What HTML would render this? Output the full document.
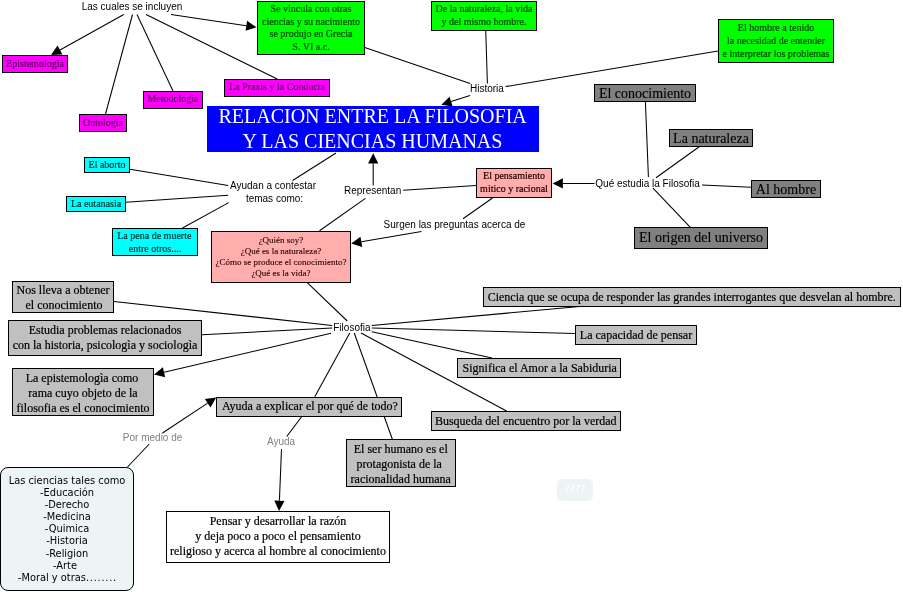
<!DOCTYPE html>
<html lang="es"><head><meta charset="utf-8"><title>Relacion entre la filosofia y las ciencias humanas</title>
<style>
html,body{margin:0;padding:0;background:#fff}
#map{position:relative;width:903px;height:592px;overflow:hidden;background:#fff;will-change:transform}
#map svg{position:absolute;left:0;top:0}
#map svg line{stroke:#000;stroke-width:1.05}
.b{position:absolute;box-sizing:border-box;border:1px solid #000;overflow:visible}
.b p,.l p{position:absolute;left:-50px;right:-50px;margin:0;text-align:center;white-space:pre}
.s3 p{-webkit-text-stroke:0.22px currentColor}
.s2 p{-webkit-text-stroke:0.2px currentColor}
.s1 p{-webkit-text-stroke:0.12px currentColor}
.d{letter-spacing:0.75px}
.l{position:absolute;width:0;height:0;font-family:"Liberation Sans",Arial,sans-serif;font-size:10px;line-height:12.5px}
.l p{left:-150px;right:-150px}
</style></head><body>
<div id="map">
<svg width="903" height="592" viewBox="0 0 903 592">

<polygon points="51.00,55.00 57.52,45.53 62.48,54.45" fill="#000"/>
<line x1="123.75" y1="14.5" x2="60.00" y2="49.99"/>
<line x1="132.5" y1="14.5" x2="105.50" y2="114.00"/>
<line x1="137" y1="14.5" x2="173.00" y2="91.00"/>
<line x1="146" y1="14.5" x2="277.25" y2="79.00"/>
<polygon points="256.50,27.30 245.56,30.83 247.06,20.74" fill="#000"/>
<line x1="171" y1="14.6" x2="246.31" y2="25.79"/>
<line x1="364.75" y1="47.4" x2="470.10" y2="83.50"/>
<line x1="485.75" y1="30.75" x2="487.40" y2="83.60"/>
<line x1="505.5" y1="86.6" x2="718.00" y2="51.00"/>
<polygon points="441.30,104.70 449.56,96.71 452.66,106.42" fill="#000"/>
<line x1="470.1" y1="95.5" x2="451.11" y2="101.57"/>
<polygon points="373.20,153.30 378.30,163.60 368.10,163.60" fill="#000"/>
<line x1="373.2" y1="185.4" x2="373.20" y2="163.60"/>
<line x1="336" y1="153" x2="292.60" y2="180.50"/>
<line x1="130" y1="169.25" x2="228.20" y2="185.40"/>
<line x1="125.75" y1="202.25" x2="228.20" y2="195.20"/>
<line x1="182.5" y1="228" x2="228.70" y2="202.60"/>
<line x1="403.3" y1="190.3" x2="476.00" y2="185.50"/>
<line x1="365.4" y1="198.4" x2="319.50" y2="230.70"/>
<line x1="492.5" y1="198" x2="463.00" y2="218.75"/>
<polygon points="351.20,243.60 360.49,236.83 362.22,246.88" fill="#000"/>
<line x1="421.5" y1="231.5" x2="361.35" y2="241.85"/>
<polygon points="552.60,183.40 562.90,178.30 562.90,188.50" fill="#000"/>
<line x1="594.5" y1="183.4" x2="562.90" y2="183.40"/>
<line x1="645.4" y1="101.8" x2="648.40" y2="176.90"/>
<line x1="699.2" y1="146.8" x2="656.00" y2="177.80"/>
<line x1="702" y1="185" x2="751.00" y2="187.25"/>
<line x1="653" y1="188.1" x2="690.10" y2="227.20"/>
<line x1="307" y1="282.4" x2="347.25" y2="321.00"/>
<line x1="114" y1="301.5" x2="332.25" y2="325.50"/>
<line x1="202" y1="334.75" x2="332.25" y2="328.00"/>
<polygon points="154.00,374.50 162.87,367.19 165.19,377.13" fill="#000"/>
<line x1="331" y1="333.2" x2="164.03" y2="372.16"/>
<line x1="349.75" y1="333" x2="314.75" y2="396.75"/>
<line x1="354.25" y1="333" x2="392.25" y2="439.00"/>
<line x1="371.75" y1="325.5" x2="579.50" y2="306.50"/>
<line x1="371.75" y1="328" x2="575.00" y2="333.50"/>
<line x1="371.75" y1="331.75" x2="492.00" y2="358.00"/>
<line x1="361" y1="333" x2="506.50" y2="411.00"/>
<line x1="301.75" y1="416.5" x2="286.75" y2="436.50"/>
<polygon points="279.00,511.00 274.32,500.50 284.51,500.91" fill="#000"/>
<line x1="281.5" y1="449" x2="279.41" y2="500.71"/>
<line x1="127.5" y1="467" x2="149.25" y2="444.00"/>
<polygon points="216.25,397.50 210.47,407.43 204.84,398.92" fill="#000"/>
<line x1="162.5" y1="433" x2="207.66" y2="403.18"/>
</svg>
<div class="b s3" style='left:2px;top:55px;width:66px;height:18px;background:#ff00ff;color:#5c005c;font:10px/12.5px "Liberation Serif","Times New Roman",serif;'><p style="top:2px">Epistemologìa</p></div>
<div class="b s3" style='left:79px;top:114px;width:48px;height:18px;background:#ff00ff;color:#5c005c;font:10px/12.5px "Liberation Serif","Times New Roman",serif;'><p style="top:2px">Ontologìa</p></div>
<div class="b s3" style='left:143px;top:91px;width:60px;height:18px;background:#ff00ff;color:#5c005c;font:10px/12.5px "Liberation Serif","Times New Roman",serif;'><p style="top:1px">Metodologìa</p></div>
<div class="b s3" style='left:224px;top:79px;width:106px;height:18px;background:#ff00ff;color:#5c005c;font:10px/12.5px "Liberation Serif","Times New Roman",serif;'><p style="top:1px">La Praxis y la Conducta</p></div>
<div class="b s3" style='left:257px;top:1px;width:108px;height:53.5px;background:#00ff00;color:#004a00;font:10px/12.5px "Liberation Serif","Times New Roman",serif;'><p style="top:1px">Se vincula con otras</p><p style="top:14px">ciencias y su nacimiento</p><p style="top:26px">se produjo en Grecia</p><p style="top:39px">S. VI a.c.</p></div>
<div class="b s3" style='left:431px;top:1px;width:106px;height:30px;background:#00ff00;color:#004a00;font:10px/12.5px "Liberation Serif","Times New Roman",serif;'><p style="top:1px">De la naturaleza, la vida</p><p style="top:14px">y del mismo hombre.</p></div>
<div class="b s3" style='left:718px;top:19px;width:116px;height:43.5px;background:#00ff00;color:#004a00;font:10px/12.75px "Liberation Serif","Times New Roman",serif;'><p style="top:2px">El hombre a tenido</p><p style="top:15px">la necesidad de entender</p><p style="top:28px">e interpretar los problemas</p></div>
<div class="b s0" style='left:207px;top:106px;width:332px;height:46px;background:#0000ff;color:#fff;font:20px/25.1px "Liberation Serif","Times New Roman",serif;border-color:#0000ff;'><p style="top:-3px;padding-right:0.8px">RELACION ENTRE LA FILOSOFIA</p><p style="top:22px;padding-right:1px">Y LAS CIENCIAS HUMANAS</p></div>
<div class="b s3" style='left:84px;top:157px;width:46px;height:15.5px;background:#00ffff;color:#003535;font:10px/12.5px "Liberation Serif","Times New Roman",serif;'><p style="top:1px">El aborto</p></div>
<div class="b s3" style='left:66px;top:196px;width:60px;height:15.5px;background:#00ffff;color:#003535;font:10px/12.5px "Liberation Serif","Times New Roman",serif;'><p style="top:1px">La eutanasia</p></div>
<div class="b s3" style='left:112px;top:228px;width:86px;height:27.5px;background:#00ffff;color:#003535;font:10px/12.5px "Liberation Serif","Times New Roman",serif;'><p style="top:1px;padding-right:1.4px">La pena de muerte</p><p style="top:14px">entre otros....</p></div>
<div class="b s1" style='left:211px;top:231px;width:140px;height:51.5px;background:#ffadad;color:#2a0000;font:9px/11.1px "Liberation Serif","Times New Roman",serif;'><p style="top:3px">¿Quién soy?</p><p style="top:14px">¿Qué es la naturaleza?</p><p style="top:25px">¿Cómo se produce el conocimiento?</p><p style="top:36px">¿Qué es la vida?</p></div>
<div class="b s3" style='left:476px;top:168px;width:76px;height:30px;background:#ffadad;color:#2a0000;font:10px/12.7px "Liberation Serif","Times New Roman",serif;'><p style="top:1px">El pensamiento</p><p style="top:14px">mitico y racional</p></div>
<div class="b s1" style='left:594px;top:84px;width:102px;height:17.5px;background:#808080;color:#000;font:14px/17px "Liberation Serif","Times New Roman",serif;'><p style="top:0px">El conocimiento</p></div>
<div class="b s1" style='left:669px;top:129px;width:84px;height:18px;background:#808080;color:#000;font:14px/17px "Liberation Serif","Times New Roman",serif;'><p style="top:0px">La naturaleza</p></div>
<div class="b s1" style='left:751px;top:180px;width:70px;height:17.5px;background:#808080;color:#000;font:14px/17px "Liberation Serif","Times New Roman",serif;'><p style="top:0px">Al hombre</p></div>
<div class="b s1" style='left:634px;top:227px;width:134px;height:22px;background:#808080;color:#000;font:14px/17px "Liberation Serif","Times New Roman",serif;'><p style="top:1px">El origen del universo</p></div>
<div class="b s2" style='left:12px;top:281px;width:102px;height:31.5px;background:#c0c0c0;color:#000;font:12px/15px "Liberation Serif","Times New Roman",serif;'><p style="top:1px">Nos lleva a obtener</p><p style="top:16px;padding-left:2px">el conocimiento</p></div>
<div class="b s2" style='left:8px;top:320px;width:194px;height:35.5px;background:#c0c0c0;color:#000;font:12px/15px "Liberation Serif","Times New Roman",serif;'><p style="top:2px">Estudia problemas relacionados</p><p style="top:17px">con la historia, psicologìa y sociologìa</p></div>
<div class="b s2" style='left:12px;top:368px;width:142px;height:48px;background:#c0c0c0;color:#000;font:12px/15px "Liberation Serif","Times New Roman",serif;'><p style="top:2px;padding-right:2px">La epistemologìa como</p><p style="top:17px">rama cuyo objeto de la</p><p style="top:32px">filosofia es el conocimiento</p></div>
<div class="b s2" style='left:216px;top:397px;width:185.5px;height:19.5px;background:#c0c0c0;color:#000;font:12px/15px "Liberation Serif","Times New Roman",serif;'><p style="top:1px;padding-left:2.4px">Ayuda a explicar el por qué de todo?</p></div>
<div class="b s2" style='left:346px;top:439px;width:109.5px;height:48px;background:#c0c0c0;color:#000;font:12px/15px "Liberation Serif","Times New Roman",serif;'><p style="top:2px">El ser humano es el</p><p style="top:17px;padding-right:3px">protagonista de la</p><p style="top:32px">racionalidad humana</p></div>
<div class="b s2" style='left:483px;top:287px;width:417.5px;height:19.5px;background:#c0c0c0;color:#000;font:12px/15px "Liberation Serif","Times New Roman",serif;'><p style="top:2px">Ciencia que se ocupa de responder las grandes interrogantes que desvelan al hombre.</p></div>
<div class="b s2" style='left:575px;top:325px;width:122px;height:19.5px;background:#c0c0c0;color:#000;font:12px/15px "Liberation Serif","Times New Roman",serif;'><p style="top:2px">La capacidad de pensar</p></div>
<div class="b s2" style='left:457px;top:358px;width:163.5px;height:19.5px;background:#c0c0c0;color:#000;font:12px/15px "Liberation Serif","Times New Roman",serif;'><p style="top:2px;padding-left:2px">Significa el Amor a la Sabiduria</p></div>
<div class="b s2" style='left:431px;top:411px;width:189.5px;height:19.5px;background:#c0c0c0;color:#000;font:12px/15px "Liberation Serif","Times New Roman",serif;'><p style="top:2px">Busqueda del encuentro por la verdad</p></div>
<div class="b s2" style='left:166px;top:511px;width:224px;height:52px;background:#fff;color:#000;font:12px/15.1px "Liberation Serif","Times New Roman",serif;'><p style="top:2px">Pensar y desarrollar la razón</p><p style="top:17px">y deja poco a poco el pensamiento</p><p style="top:32px">religioso y acerca al hombre al conocimiento</p></div>
<div class="b s0" style='left:0px;top:467px;width:134px;height:123.5px;background:#edf4f6;color:#000;font:9.85px/12.125px "DejaVu Sans",Verdana,sans-serif;border-radius:8px;'><p style="top:7px">Las ciencias tales como</p><p style="top:19px">-Educación</p><p style="top:31px">-Derecho</p><p style="top:43px">-Medicina</p><p style="top:55px">-Quimica</p><p style="top:67px">-Historia</p><p style="top:80px">-Religion</p><p style="top:92px;padding-right:4px">-Arte</p><p style="top:104px;padding-left:0.8px">-Moral y otras<span class=d>........</span></p></div>
<div class="b s0" style='left:557px;top:479px;width:36px;height:22px;background:#edf4f6;color:#fff;font:9.85px/12.125px "DejaVu Sans",Verdana,sans-serif;border:0;border-radius:5px;'><p style="top:5px">????</p></div>
<div class="l" style="left:132px;top:0;color:#000"><p style="top:1px">Las cuales se incluyen</p></div>
<div class="l" style="left:486.9px;top:0;color:#000"><p style="top:83px">Historia</p></div>
<div class="l" style="left:273px;top:0;color:#000"><p style="top:180px">Ayudan a contestar</p><p style="top:193px;padding-left:3px">temas como:</p></div>
<div class="l" style="left:372.6px;top:0;color:#000"><p style="top:185px">Representan</p></div>
<div class="l" style="left:454.5px;top:0;color:#000"><p style="top:219px">Surgen las preguntas acerca de</p></div>
<div class="l" style="left:647.6px;top:0;color:#000"><p style="top:178px">Qué estudia la Filosofia</p></div>
<div class="l" style="left:351.9px;top:0;color:#000"><p style="top:322px">Filosofia</p></div>
<div class="l" style="left:152.6px;top:0;color:#808080"><p style="top:432px">Por medio de</p></div>
<div class="l" style="left:281px;top:0;color:#808080"><p style="top:436px">Ayuda</p></div>
</div></body></html>
